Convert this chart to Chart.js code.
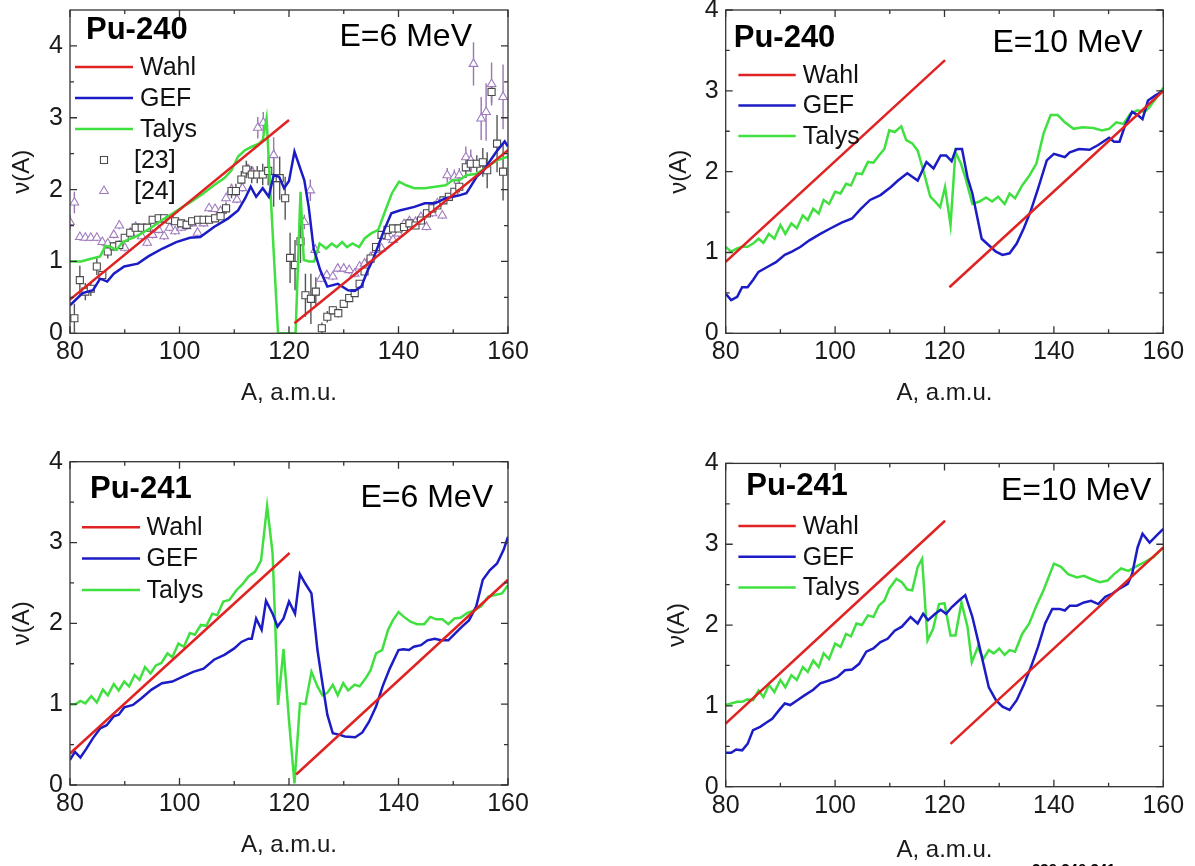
<!DOCTYPE html>
<html>
<head>
<meta charset="utf-8">
<script src="https://cdn.jsdelivr.net/npm/chart.js@4.4.0/dist/chart.umd.min.js"></script>
<style>
html,body{margin:0;padding:0;background:#fff;}
body{width:1195px;height:866px;overflow:hidden;position:relative;font-family:"Liberation Sans",Arial,sans-serif;}
canvas{position:absolute;}
#note{position:absolute;left:1032px;top:860px;font:bold 15px "Liberation Sans",Arial,sans-serif;color:#000;white-space:nowrap;}
</style>
</head>
<body>
<canvas id="c1" width="560" height="440" style="left:0px;top:-30px"></canvas>
<canvas id="c2" width="555" height="440" style="left:640px;top:-30px"></canvas>
<canvas id="c3" width="560" height="446" style="left:0px;top:420px"></canvas>
<canvas id="c4" width="555" height="446" style="left:640px;top:420px"></canvas>
<div id="note">239,240,241</div>
<script>
// ---------- axis ticks ----------
const X_TICKS = [80, 100, 120, 140, 160];
const X_MINOR = [90, 110, 130, 150];
const Y_TICKS = [0, 1, 2, 3, 4];
const Y_MINOR = [0.5, 1.5, 2.5, 3.5];

// ---------- Panel 1 : Pu-240, E=6 MeV ----------
const p1WahlA = [80, 120];       const p1WahlV = [0.47, 2.97];
const p1Wahl2A = [121, 160];     const p1Wahl2V = [0.14, 2.55];
const p1GefA = [80,82.3,84.2,85.5,86.8,88,89.9,92.4,94.3,96.9,99.4,101.9,103.8,106.3,108.9,110.7,112,113,114,115.2,116.3,117.2,118.2,119.1,120,121,122.8,123.6,124.5,125.7,127,128.9,130.8,132,133.2,134.4,135.3,136.2,137.4,138.7,140.2,142.9,144.8,146.7,148.6,149.9,151.1,152.4,153,154.3,155.6,156.8,158.1,159.4,160];
const p1GefV = [0.39,0.56,0.60,0.76,0.72,0.83,0.93,0.97,1.07,1.18,1.27,1.33,1.34,1.48,1.60,1.71,1.88,2.04,1.90,2.02,1.90,2.20,2.18,2.02,2.12,2.53,2.13,1.76,1.18,0.88,0.65,0.69,0.60,0.59,0.65,0.88,1.02,1.20,1.44,1.67,1.71,1.76,1.81,1.81,1.88,1.90,1.92,1.95,2.02,2.18,2.27,2.41,2.55,2.67,2.60];
const p1TalA = [80,82,84,85.5,86.5,87.5,88.5,89.5,90.5,91.8,93.1,95,96.9,98.8,100.6,102.5,104.4,106.3,108.2,109.5,110.7,112,113.3,114.5,115.2,115.9,116.7,118,119.9,121.2,122.1,122.7,123.7,124.6,125.6,126.8,127.8,128.7,129.7,130.6,131.6,132.8,133.8,135,136.3,137.6,138.8,140.1,141.4,142.9,144.8,146.7,148.6,149.9,151.1,152.4,154.3,156.2,158.1,160];
const p1TalV = [1.0,1.0,1.04,1.07,1.22,1.20,1.16,1.26,1.30,1.34,1.39,1.48,1.58,1.67,1.76,1.85,1.95,2.06,2.16,2.27,2.46,2.55,2.60,2.64,2.69,2.99,1.85,0,0,0,1.97,1.02,1.0,1.0,1.25,1.18,1.25,1.2,1.27,1.2,1.25,1.2,1.32,1.39,1.44,1.71,1.95,2.11,2.06,2.02,2.02,2.04,2.06,2.13,2.13,2.2,2.22,2.32,2.41,2.46];
// experimental data [23] (squares) and [24] (triangles), with error bars
const ref23A = [80.8,81.8,82.8,83.8,84.9,85.9,86.9,88,89,90,91,92,93.1,94.1,95.1,96.2,97.2,98.2,99.2,100.3,101.3,102.3,103.4,104.4,105.4,106.5,107.5,108.5,109.5,110.3,111.3,112.2,113.2,114.2,115.2,116.2,117.2,118.3,119.3,120.2,121.1,122.1,123,124,124.9,126,127,128,129,130,131,132,132.9,133.8,134.9,135.9,136.9,138,139,140,141,142,143.1,144.1,145.2,146.2,147.1,148.2,149.2,150.2,151.1,152.3,153.2,154.3,155.4,156.2,157,158,159.1];
const ref23V = [0.21,0.74,0.58,0.62,0.93,0.81,1.14,1.21,1.23,1.33,1.40,1.47,1.47,1.47,1.58,1.60,1.60,1.58,1.56,1.53,1.51,1.56,1.58,1.58,1.58,1.60,1.63,1.74,1.98,1.98,2.14,2.28,2.21,2.21,2.21,2.26,2.16,2.16,1.88,1.05,0.95,1.28,0.53,0.48,0.58,0.07,0.23,0.32,0.28,0.41,0.49,0.56,0.69,0.86,1.04,1.20,1.37,1.44,1.46,1.46,1.48,1.53,1.50,1.57,1.67,1.74,1.78,1.85,1.90,1.97,2.04,2.31,2.36,2.36,2.38,2.27,3.36,2.64,2.25];
const ref23E = [0.2,0.2,0.12,0.1,0.12,0.05,0.1,0.06,0.06,0.05,0.05,0.05,0.05,0.05,0.05,0.05,0.05,0.05,0.05,0.05,0.05,0.05,0.05,0.05,0.05,0.05,0.05,0.08,0.1,0.1,0.12,0.12,0.12,0.12,0.15,0.2,0.4,0.3,0.3,0.35,0.35,0.3,0.3,0.35,0.2,0.08,0.08,0.06,0.06,0.05,0.05,0.05,0.05,0.05,0.05,0.05,0.05,0.05,0.05,0.05,0.05,0.05,0.05,0.05,0.05,0.05,0.05,0.05,0.05,0.05,0.08,0.15,0.12,0.12,0.2,0.25,0.15,0.4,0.4];
const ref24A = [80,80.8,81.8,82.8,83.8,84.9,85.9,86.9,88,89,90,91,92,93.1,94.1,95.1,96.2,97.2,98.2,99.2,100.3,101.3,102.3,103.3,104.4,105.4,106.5,107.5,108.5,109.5,110.5,111.5,112.5,113.4,114.3,115.3,117.2,122.8,123.9,124.8,125.8,126.9,128,128.9,130,131,132,132.9,133.8,134.9,135.9,136.9,138,139,140,141,142,143.1,144.1,145.1,146.2,147.1,148,148.9,150.2,151.1,152.3,153.2,153.7,155.1,156,157,159.1];
const ref24V = [1.55,1.82,1.34,1.33,1.33,1.33,1.27,1.25,1.37,1.50,1.19,1.40,1.48,1.35,1.26,1.37,1.44,1.35,1.47,1.42,1.47,1.49,1.53,1.40,1.53,1.74,1.73,1.70,1.88,2.0,1.86,2.02,2.28,2.23,2.86,2.93,2.48,1.55,1.99,1.16,0.76,0.81,0.79,0.90,0.90,0.88,0.83,0.93,0.97,1.06,1.16,1.18,1.34,1.30,1.39,1.52,1.56,1.55,1.62,1.48,1.67,1.81,1.64,2.20,2.18,2.20,2.45,2.41,3.75,2.99,3.08,3.47,3.29];
const ref24E = [0.1,0.15,0.05,0.05,0.05,0.05,0.05,0.05,0.05,0.05,0.05,0.05,0.05,0.05,0.05,0.05,0.05,0.05,0.05,0.05,0.05,0.05,0.05,0.05,0.05,0.05,0.05,0.05,0.05,0.05,0.05,0.05,0.08,0.08,0.15,0.15,0.25,0.1,0.15,0.08,0.05,0.05,0.05,0.05,0.05,0.05,0.05,0.05,0.05,0.05,0.05,0.05,0.05,0.05,0.05,0.05,0.05,0.05,0.05,0.05,0.05,0.05,0.05,0.1,0.1,0.1,0.15,0.15,0.3,0.3,0.4,0.3,0.45];

// ---------- Panel 2 : Pu-240, E=10 MeV ----------
const p2WahlA = [80, 120.1];     const p2WahlV = [0.885, 3.38];
const p2Wahl2A = [120.9, 160];   const p2Wahl2V = [0.57, 3.0];
const p2GefA = [80,81,82.1,83,84,85,86,87.6,89.2,90.8,92.1,93.7,95.3,97.3,99.2,101.2,103.1,104.7,106.4,108.3,110.2,111.5,113.2,115.1,116.7,118,119.3,120.3,121.3,122.1,123.2,124.2,125.1,126.8,128.1,129.4,130.6,131.9,133.2,134.5,135.8,137.1,138.7,140,141,142,142.9,144.6,146.5,148.1,150.1,151,152,153,154.3,155.3,156.2,157.2,158.5,160];
const p2GefV = [0.49,0.41,0.45,0.57,0.57,0.66,0.76,0.82,0.88,0.97,1.01,1.07,1.15,1.23,1.30,1.37,1.42,1.54,1.65,1.71,1.81,1.89,1.98,1.89,2.12,2.04,2.20,2.20,2.13,2.28,2.28,1.93,1.73,1.17,1.09,1.01,0.97,0.99,1.11,1.30,1.52,1.79,2.14,2.22,2.20,2.18,2.24,2.28,2.27,2.33,2.42,2.37,2.37,2.57,2.74,2.70,2.65,2.88,2.94,3.0];
const p2TalA = [80,81,82.1,83,84,85,86,86.9,87.9,88.9,90,90.9,92,93,94.1,95,96,97,97.9,98.9,100,101,102,102.9,103.9,104.9,106,107,108,109,109.9,110.9,112.1,113,114.1,115.1,116.1,117.4,118.3,119.2,120.1,121.1,122,123,123.8,125.1,126.4,127.6,128.7,129.8,131,131.9,132.9,134.2,135.5,136.8,138.1,139.4,140.7,142,143.6,145.2,147.2,148.8,150.1,151.4,152.7,154,155.3,156.6,157.5,158.8,160];
const p2TalV = [1.07,1.01,1.05,1.07,1.07,1.11,1.17,1.12,1.23,1.17,1.34,1.23,1.36,1.30,1.46,1.40,1.54,1.48,1.65,1.60,1.75,1.73,1.85,1.83,1.98,1.97,2.12,2.11,2.20,2.28,2.51,2.49,2.56,2.39,2.35,2.26,2.02,1.69,1.63,1.56,1.81,1.34,2.24,2.10,1.93,1.60,1.63,1.68,1.63,1.69,1.60,1.73,1.67,1.83,1.95,2.10,2.47,2.70,2.70,2.61,2.53,2.55,2.54,2.51,2.53,2.61,2.59,2.72,2.76,2.74,2.80,2.92,3.04];

// ---------- Panel 3 : Pu-241, E=6 MeV ----------
const p3WahlA = [80, 120.1];     const p3WahlV = [0.39, 2.87];
const p3Wahl2A = [121.3, 160];   const p3Wahl2V = [0.13, 2.54];
const p3GefA = [80,80.9,81.9,83,84.2,85.5,86.7,88,88.9,89.9,91.5,93,94.9,96.8,98.7,100.6,102.5,104.4,106.3,108.2,110,111.3,112.6,113.2,114,115,115.8,117,117.9,119,120,121.1,122,123,124.1,125.2,126.1,127,128,129.3,130.2,132.1,133.4,134.6,135.9,137.1,138.4,140,140.9,141.9,142.8,144.1,145.3,146.6,147.8,149.1,150.4,151.6,152.9,154.2,155.4,156.7,158,159.2,160];
const p3GefV = [0.31,0.41,0.34,0.45,0.58,0.70,0.74,0.85,0.87,0.96,0.99,1.07,1.18,1.26,1.28,1.34,1.40,1.44,1.55,1.61,1.69,1.77,1.81,1.81,2.06,1.92,2.28,2.12,1.96,2.06,2.27,2.12,2.61,2.49,2.37,1.67,1.26,0.87,0.64,0.62,0.60,0.59,0.65,0.78,0.97,1.22,1.44,1.67,1.68,1.67,1.71,1.73,1.79,1.81,1.79,1.79,1.88,1.96,2.04,2.21,2.54,2.66,2.74,2.91,3.07];
const p3TalA = [80,81,81.9,82.8,83.9,84.9,86,86.9,88,88.9,89.9,90.8,91.8,92.7,93.7,94.7,95.7,96.7,97.8,98.7,99.8,100.8,101.9,102.8,103.9,104.9,106,106.9,108,109.1,110.4,111.6,112.6,113.8,114.9,116,117,117.5,118,119,120,121,122,123,124.1,125.2,126.1,127,128,128.9,129.9,130.8,132,132.9,134,134.9,135.9,137,138.1,139,140,141,142.2,143.4,144.7,145.8,146.9,148,149.1,150.2,151.3,152.6,153.8,155.1,156.4,157.6,158.9,160];
const p3TalV = [1.0,1.0,1.04,1.01,1.10,1.02,1.18,1.11,1.25,1.17,1.28,1.22,1.36,1.30,1.46,1.38,1.48,1.51,1.63,1.58,1.75,1.71,1.88,1.86,1.98,1.97,2.12,2.10,2.27,2.29,2.41,2.49,2.58,2.64,2.78,3.45,2.87,1.96,0.99,1.68,0.8,0.02,1.01,1.0,1.40,1.22,1.11,1.14,1.24,1.11,1.26,1.17,1.24,1.22,1.32,1.42,1.63,1.67,1.92,2.04,2.14,2.08,2.02,1.99,1.99,2.08,2.05,2.05,1.99,2.06,2.07,2.13,2.16,2.21,2.33,2.35,2.37,2.47];

// ---------- Panel 4 : Pu-241, E=10 MeV ----------
const p4WahlA = [80, 120.1];     const p4WahlV = [0.78, 3.29];
const p4Wahl2A = [121.1, 160];   const p4Wahl2V = [0.53, 2.96];
const p4GefA = [80,81,81.9,83,84,85,86.3,87.6,88.5,89.8,90.8,91.8,93.1,94.4,96,97.3,99.2,100.5,101.8,103.1,104.4,105.7,107,108.3,109.6,110.9,112.2,113.8,115.1,116.1,117,118.3,119.3,120.3,121.3,122.6,123.8,125.1,126.4,128.1,129.4,130.6,131.9,133.2,134.5,135.8,137.1,138.4,139.7,141,142,142.9,144.2,145.5,146.8,148.1,149.4,150.7,152,153.5,154.3,155.3,156.2,157.5,158.8,160];
const p4GefV = [0.42,0.42,0.46,0.45,0.53,0.70,0.74,0.80,0.84,0.95,1.03,1.01,1.07,1.13,1.20,1.28,1.32,1.36,1.44,1.45,1.52,1.67,1.71,1.79,1.83,1.93,1.98,2.10,2.02,2.14,2.06,2.14,2.19,2.14,2.22,2.30,2.37,2.10,1.73,1.23,1.07,0.99,0.95,1.07,1.26,1.48,1.73,2.02,2.20,2.20,2.18,2.24,2.24,2.28,2.30,2.26,2.35,2.39,2.45,2.51,2.63,2.96,3.13,3.02,3.11,3.19];
const p4TalA = [80,81,82.1,83,84,85,86,86.9,87.9,88.9,90,90.9,92,93,94.1,95,96,97,97.9,98.9,100,101,102,102.9,103.9,104.9,106,107,108,109,109.9,111.2,112.2,113.2,114.1,115.1,115.9,116.9,117.9,119,120,121.1,122,123.1,124.2,125,126.1,127.1,128.1,129,130,131,131.9,132.9,134.2,135.5,136.8,138.1,140,141.3,142.6,144.2,145.5,146.8,148.4,149.8,151,152.3,153.6,154.9,156.6,158.2,160];
const p4TalV = [1.01,1.03,1.05,1.05,1.08,1.07,1.19,1.11,1.26,1.17,1.32,1.23,1.38,1.32,1.48,1.42,1.56,1.48,1.65,1.58,1.77,1.73,1.89,1.86,2.02,2.00,2.12,2.10,2.24,2.30,2.45,2.57,2.53,2.44,2.43,2.72,2.82,1.81,1.95,2.26,2.27,1.87,1.87,2.28,1.98,1.54,1.73,1.58,1.69,1.65,1.71,1.63,1.69,1.67,1.89,2.02,2.24,2.43,2.76,2.72,2.63,2.59,2.61,2.57,2.53,2.55,2.63,2.70,2.67,2.72,2.78,2.84,2.96];

// ---------- styling ----------
const FONT = '"Liberation Sans", Arial, Helvetica, sans-serif';
const RED = '#e02222', BLUE = '#1c1cc6', GREEN = '#3fe03f';
const SQ = '#4a4a4a', TRI = '#a07cbe';

function pts(xs, ys) { return xs.map((x, i) => ({ x: x, y: ys[i] })); }
function lineDs(label, xs, ys, color, legend, order) {
  return { label, data: pts(xs, ys), borderColor: color, backgroundColor: color, borderWidth: 2.5,
           pointRadius: 0, pointHoverRadius: 0, tension: 0, fill: false, legend, order };
}
function markDs(label, xs, ys, es, style, color, errColor) {
  return { label, data: pts(xs, ys), showLine: false, pointStyle: style, pointRadius: 5,
           pointBorderColor: color, pointBackgroundColor: '#ffffff', pointBorderWidth: 1.1,
           borderColor: color, backgroundColor: '#ffffff', errors: es, errorColor: errColor, legend: true, order: 10 };
}
function modelSets(wA, wV, w2A, w2V, gA, gV, tA, tV) {
  return [
    lineDs('Wahl', wA, wV, RED, true, 1),
    lineDs('GEF', gA, gV, BLUE, true, 2),
    lineDs('Talys', tA, tV, GREEN, true, 3),
    lineDs('Wahl', w2A, w2V, RED, false, 1)
  ];
}

const deco = {
  id: 'deco',
  beforeDatasetsDraw(chart) {
    const { ctx, chartArea: a, scales: { x, y } } = chart;
    ctx.save();
    ctx.beginPath(); ctx.rect(a.left, a.top, a.right - a.left, a.bottom - a.top); ctx.clip();
    chart.data.datasets.forEach(ds => {
      if (!ds.errors) return;
      ctx.strokeStyle = ds.errorColor; ctx.lineWidth = 1.4;
      ds.data.forEach((p, i) => {
        const e = ds.errors[i];
        const px = x.getPixelForValue(p.x);
        ctx.beginPath();
        ctx.moveTo(px, y.getPixelForValue(p.y - e));
        ctx.lineTo(px, y.getPixelForValue(p.y + e));
        ctx.stroke();
      });
    });
    ctx.restore();
  },
  afterDraw(chart, args, o) {
    const { ctx, chartArea: a, scales: { x, y } } = chart;
    ctx.save();
    // frame
    ctx.strokeStyle = '#333'; ctx.lineWidth = 1.3;
    ctx.strokeRect(a.left, a.top, a.right - a.left, a.bottom - a.top);
    // inward ticks on all four sides
    const tick = (vals, len, horiz) => {
      vals.forEach(v => {
        if (horiz) {
          const px = x.getPixelForValue(v);
          ctx.beginPath(); ctx.moveTo(px, a.bottom); ctx.lineTo(px, a.bottom - len);
          ctx.moveTo(px, a.top); ctx.lineTo(px, a.top + len); ctx.stroke();
        } else {
          if (v > y.max) return;
          const py = y.getPixelForValue(v);
          ctx.beginPath(); ctx.moveTo(a.left, py); ctx.lineTo(a.left + len, py);
          ctx.moveTo(a.right, py); ctx.lineTo(a.right - len, py); ctx.stroke();
        }
      });
    };
    tick(X_TICKS, 7, true); tick(X_MINOR, 4, true);
    tick(Y_TICKS, 7, false); tick(Y_MINOR, 4, false);
    // legend
    const lg = o.legend;
    let row = 0;
    chart.data.datasets.forEach(ds => {
      if (!ds.legend) return;
      const yy = a.top + lg.y0 + row * lg.dy;
      const x1 = a.left + lg.x1, x2 = a.left + lg.x2;
      if (ds.showLine === false) {
        ctx.strokeStyle = ds.pointBorderColor; ctx.fillStyle = '#ffffff'; ctx.lineWidth = 1.1;
        Chart.helpers.drawPoint(ctx, { pointStyle: ds.pointStyle, radius: 5, rotation: 0, borderWidth: 1.1 }, (x1 + x2) / 2, yy);
      } else {
        ctx.strokeStyle = ds.borderColor; ctx.lineWidth = 2.5;
        ctx.beginPath(); ctx.moveTo(x1, yy); ctx.lineTo(x2, yy); ctx.stroke();
      }
      ctx.fillStyle = '#111'; ctx.font = '25px ' + FONT;
      ctx.textAlign = 'left'; ctx.textBaseline = 'middle';
      ctx.fillText(ds.label, a.left + (ds.showLine === false ? lg.tx - 6 : lg.tx), yy + 1);
      row++;
    });
    // panel labels
    o.texts.forEach(t => {
      ctx.fillStyle = '#000'; ctx.font = t.font + ' ' + FONT;
      ctx.textBaseline = 'alphabetic';
      if (t.align === 'right') { ctx.textAlign = 'right'; ctx.fillText(t.text, a.right - t.dx, a.top + t.dy); }
      else { ctx.textAlign = 'left'; ctx.fillText(t.text, a.left + t.dx, a.top + t.dy); }
    });
    ctx.restore();
  }
};

function makePanel(id, cfg) {
  const cv = document.getElementById(id);
  const W = cv.width, H = cv.height;
  return new Chart(cv, {
    type: 'line',
    data: { datasets: cfg.datasets },
    options: {
      responsive: false, animation: false, events: [],
      layout: { padding: { left: 0, top: cfg.T, right: W - cfg.R, bottom: 0 } },
      plugins: { legend: { display: false }, tooltip: { enabled: false }, deco: cfg.deco },
      scales: {
        x: {
          type: 'linear', min: 80, max: 160,
          afterBuildTicks: s => { s.ticks = X_TICKS.map(v => ({ value: v })); },
          afterFit: s => { s.height = H - cfg.B; },
          grid: { display: false, drawTicks: false, tickLength: 0 }, border: { display: false },
          ticks: { font: { family: FONT, size: 25 }, color: '#1a1a1a', padding: 4, maxRotation: 0, autoSkip: false },
          title: { display: true, text: 'A, a.m.u.', color: '#1a1a1a', font: { family: FONT, size: 24 },
                   padding: { top: 0, bottom: cfg.xTitlePad } }
        },
        y: {
          type: 'linear', min: 0, max: cfg.yMax,
          afterBuildTicks: s => { s.ticks = Y_TICKS.map(v => ({ value: v })); },
          afterFit: s => { s.width = cfg.L; },
          grid: { display: false, drawTicks: false, tickLength: 0 }, border: { display: false },
          ticks: { font: { family: FONT, size: 25 }, color: '#1a1a1a', padding: 7 },
          title: { display: true, text: 'ν(A)', color: '#1a1a1a', font: { family: FONT, size: 24 },
                   padding: { top: cfg.yTitlePad, bottom: 0 } }
        }
      }
    },
    plugins: [deco]
  });
}

// Panel 1
makePanel('c1', {
  L: 70, T: 40, R: 508, B: 363.3, yMax: 4.5, xTitlePad: 2.6, yTitlePad: 7.6,
  datasets: modelSets(p1WahlA, p1WahlV, p1Wahl2A, p1Wahl2V, p1GefA, p1GefV, p1TalA, p1TalV).concat([
    markDs('[23]', ref23A, ref23V, ref23E, 'rect', SQ, '#555'),
    markDs('[24]', ref24A, ref24V, ref24E, 'triangle', TRI, '#9a74b4')
  ]),
  deco: { legend: { x1: 5, x2: 63, tx: 70, y0: 57, dy: 31 },
          texts: [{ text: 'Pu-240', font: 'bold 31px', dx: 16, dy: 29 },
                  { text: 'E=6 MeV', font: '32px', dx: 36, dy: 36, align: 'right' }] }
});
// Panel 2
makePanel('c2', {
  L: 85.7, T: 40, R: 523.3, B: 363.3, yMax: 4, xTitlePad: 2.6, yTitlePad: 24.6,
  datasets: modelSets(p2WahlA, p2WahlV, p2Wahl2A, p2Wahl2V, p2GefA, p2GefV, p2TalA, p2TalV),
  deco: { legend: { x1: 12.7, x2: 70, tx: 77, y0: 65, dy: 30.5 },
          texts: [{ text: 'Pu-240', font: 'bold 31px', dx: 8, dy: 37 },
                  { text: 'E=10 MeV', font: '32px', dx: 20.6, dy: 42, align: 'right' }] }
});
// Panel 3
makePanel('c3', {
  L: 70, T: 41.7, R: 508, B: 365, yMax: 4, xTitlePad: 6.6, yTitlePad: 7.6,
  datasets: modelSets(p3WahlA, p3WahlV, p3Wahl2A, p3Wahl2V, p3GefA, p3GefV, p3TalA, p3TalV),
  deco: { legend: { x1: 12, x2: 70, tx: 76.6, y0: 65.6, dy: 31.3 },
          texts: [{ text: 'Pu-241', font: 'bold 31px', dx: 20, dy: 36.6 },
                  { text: 'E=6 MeV', font: '32px', dx: 15, dy: 45, align: 'right' }] }
});
// Panel 4
makePanel('c4', {
  L: 85.7, T: 43.4, R: 523.3, B: 366.7, yMax: 4, xTitlePad: 1.6, yTitlePad: 22.6,
  datasets: modelSets(p4WahlA, p4WahlV, p4Wahl2A, p4Wahl2V, p4GefA, p4GefV, p4TalA, p4TalV),
  deco: { legend: { x1: 12.7, x2: 70, tx: 77, y0: 62.6, dy: 30.7 },
          texts: [{ text: 'Pu-241', font: 'bold 31px', dx: 20.5, dy: 31.6 },
                  { text: 'E=10 MeV', font: '32px', dx: 12, dy: 36.6, align: 'right' }] }
});
</script>
</body>
</html>
